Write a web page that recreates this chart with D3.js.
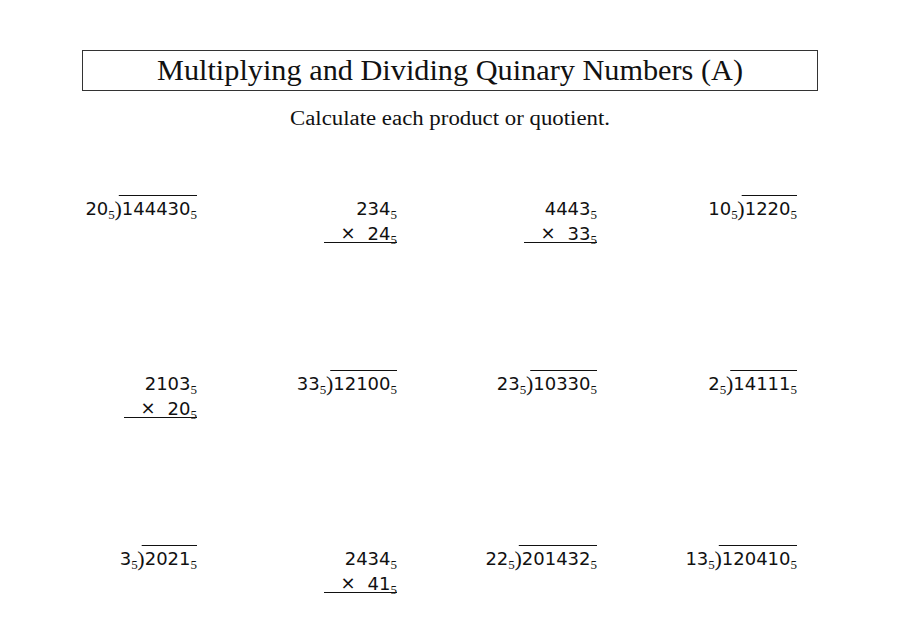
<!DOCTYPE html>
<html><head><meta charset="utf-8">
<script src="https://cdn.jsdelivr.net/npm/d3@7"></script>
<style>body{margin:0;background:#fff}</style></head>
<body><svg id="c" width="900" height="630"></svg>
<script>
const title = "Multiplying and Dividing Quinary Numbers (A)";
const subtitle = "Calculate each product or quotient.";
const problemTypes = ["div","mul","mul","div","mul","div","div","div","div","mul","div","div"];
const firstOperands = ["144430","234","4443","1220","2103","12100","10330","14111","2021","2434","201432","120410"];
const secondOperands = ["20","24","33","10","20","33","23","2","3","41","22","13"];
const base = "5";

const svg = d3.select("#c");
svg.append("rect").attr("x",82.5).attr("y",50.5).attr("width",735).attr("height",40)
  .attr("fill","none").attr("stroke","#333").attr("stroke-width",1);
svg.append("text").attr("x",450).attr("y",80).attr("text-anchor","middle")
  .attr("font-family","Liberation Serif").attr("font-size",30).attr("textLength",586)
  .attr("lengthAdjust","spacingAndGlyphs").attr("fill","#111").text(title);
svg.append("text").attr("x",450).attr("y",125).attr("text-anchor","middle")
  .attr("font-family","Liberation Serif").attr("font-size",20).attr("textLength",320)
  .attr("lengthAdjust","spacingAndGlyphs").attr("fill","#111").text(subtitle);

const col = d3.scalePoint().domain([0,1,2,3]).range([197,797]);
const rowY = r => [215,390,565][r];
const fam = "DejaVu Sans", fs = 18;

function num(g, x, y, s){
  const t = g.append("text").attr("x",x).attr("y",y).attr("text-anchor","end")
    .attr("font-family",fam).attr("font-size",fs).attr("fill","#111");
  t.append("tspan").text(s);
  t.append("tspan").attr("dy",4).attr("font-size",13).attr("font-family","Liberation Serif").text(base);
  return t;
}

problemTypes.forEach((type,i)=>{
  const x = col(i%4), y = rowY(Math.floor(i/4));
  const g = svg.append("g");
  if(type==="div"){
    const d = num(g,x,y,firstOperands[i]);
    const w = d.node().getBBox().width;
    const px = x - w;
    g.append("text").attr("x",px).attr("y",y+1).attr("text-anchor","end")
      .attr("font-family","Liberation Serif").attr("font-size",22).attr("fill","#111").text(")");
    g.append("line").attr("x1",px-3).attr("x2",x).attr("y1",y-19.5).attr("y2",y-19.5)
      .attr("stroke","#111").attr("stroke-width",1);
    num(g,px-7,y,secondOperands[i]);
  } else {
    num(g,x,y,firstOperands[i]);
    const t = num(g,x,y+25,secondOperands[i]);
    const w = t.node().getBBox().width;
    g.append("text").attr("x",x-w-12).attr("y",y+24).attr("text-anchor","end")
      .attr("font-family","DejaVu Sans").attr("font-size",18).attr("fill","#111").text("×");
    const lw = Math.max(73, w + 40);
    g.append("line").attr("x1",x-lw).attr("x2",x).attr("y1",y+27.5).attr("y2",y+27.5)
      .attr("stroke","#111").attr("stroke-width",1);
  }
});
</script></body></html>
